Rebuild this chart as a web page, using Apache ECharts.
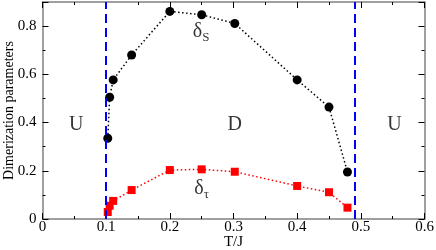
<!DOCTYPE html>
<html>
<head>
<meta charset="utf-8">
<script src="https://cdn.jsdelivr.net/npm/echarts@6/dist/echarts.min.js"></script>
<style>html,body{margin:0;padding:0;background:#fff}#c{width:436px;height:250px}</style>
</head>
<body>
<div id="c"></div>
<script>
// Data
const deltaS_T = [0.1025, 0.1055, 0.111, 0.14, 0.2, 0.25, 0.302, 0.4, 0.45, 0.479];
const deltaS = [0.335, 0.505, 0.577, 0.680, 0.861, 0.847, 0.811, 0.577, 0.464, 0.195];
const deltaT_T = [0.1025, 0.1055, 0.111, 0.14, 0.2, 0.25, 0.302, 0.4, 0.45, 0.479];
const deltaT = [0.029, 0.055, 0.075, 0.120, 0.203, 0.206, 0.196, 0.137, 0.111, 0.047];
const phaseBoundaries = [0.1, 0.49];
const regionLabels = ['U', 'D', 'U'];
const regionX = [0.053, 0.302, 0.553];
const regionY = [0.39, 0.39, 0.39];
const seriesLabelX = [0.249, 0.25];
const seriesLabelY = [0.775, 0.125];
const xTicks = [0, 0.1, 0.2, 0.3, 0.4, 0.5, 0.6];
const yTicks = [0, 0.2, 0.4, 0.6, 0.8];

const serif = 'Liberation Serif';
const frame = '#808080';
const chart = echarts.init(document.getElementById('c'));
const axisCommon = {
  axisLine: {show: true, onZero: false, lineStyle: {color: frame, width: 1.5}},
  axisTick: {show: true, inside: true, length: 6, lineStyle: {color: '#000', width: 1}},
  minorTick: {show: true, splitNumber: 2, length: 3, lineStyle: {color: '#000', width: 1}},
  splitLine: {show: false}
};
const fmt = v => (v === 0 ? '0' : String(+v.toFixed(1)));
chart.setOption({
  animation: false,
  grid: {left: 42.5, right: 11.5, top: 2, bottom: 31, containLabel: false, outerBoundsMode: 'none'},
  xAxis: [
    Object.assign({}, axisCommon, {type: 'value', min: xTicks[0], max: xTicks[xTicks.length-1], interval: 0.1, position: 'bottom',
      name: 'T/J', nameLocation: 'middle', nameGap: 16, nameMoveOverlap: false,
      nameTextStyle: {fontFamily: serif, fontSize: 15, color: '#000', verticalAlign: 'top'},
      axisLabel: {fontFamily: serif, fontSize: 15, color: '#000', margin: 1, formatter: fmt}}),
    Object.assign({}, axisCommon, {type: 'value', min: 0, max: 0.6, interval: 0.1, position: 'top', axisLabel: {show: false}})
  ],
  yAxis: [
    Object.assign({}, axisCommon, {type: 'value', min: yTicks[0], max: 0.9, interval: 0.2, position: 'left',
      name: 'Dimerization parameters', nameLocation: 'middle', nameGap: 26, nameMoveOverlap: false,
      nameTextStyle: {fontFamily: serif, fontSize: 14, color: '#000', verticalAlign: 'bottom'},
      axisLabel: {fontFamily: serif, fontSize: 15, color: '#000', margin: 6, formatter: v => (v > 0.85 ? '' : fmt(v))}}),
    Object.assign({}, axisCommon, {type: 'value', min: 0, max: 0.9, interval: 0.2, position: 'right', axisLabel: {show: false}})
  ],
  series: [
    {
      type: 'line', data: deltaS_T.map((x, i) => [x, deltaS[i]]),
      symbol: 'circle', symbolSize: 9, itemStyle: {color: '#000'},
      lineStyle: {color: '#000', width: 1.5, type: [1.5, 2.5]}, z: 3
    },
    {
      type: 'line', data: deltaT_T.map((x, i) => [x, deltaT[i]]),
      symbol: 'rect', symbolSize: 8, itemStyle: {color: '#ff0000'},
      lineStyle: {color: '#ff0000', width: 1.5, type: [1.5, 2.5]}, z: 3,
      markLine: {
        silent: true, symbol: 'none', label: {show: false},
        lineStyle: {color: '#0000ff', width: 2, type: [9, 5]},
        data: phaseBoundaries.map(x => ({xAxis: x}))
      }
    },
    {
      type: 'scatter', symbolSize: 0, silent: true,
      data: regionLabels.map((t, i) => ({value: [regionX[i], regionY[i]], name: t})),
      label: {show: true, position: 'inside', formatter: p => p.name, fontFamily: serif, fontSize: 20, color: '#000'}
    },
    {
      type: 'scatter', symbolSize: 0, silent: true,
      data: [
        {value: [seriesLabelX[0], seriesLabelY[0]], name: '{d|δ}{s|S}'},
        {value: [seriesLabelX[1], seriesLabelY[1]], name: '{d|δ}{s|τ}'}
      ],
      label: {show: true, position: 'inside', formatter: p => p.name,
        rich: {d: {fontFamily: serif, fontSize: 20, color: '#000'},
               s: {fontFamily: serif, fontSize: 13, color: '#000', padding: [11, 0, 0, 0]}}}
    }
  ]
});
</script>
</body>
</html>
